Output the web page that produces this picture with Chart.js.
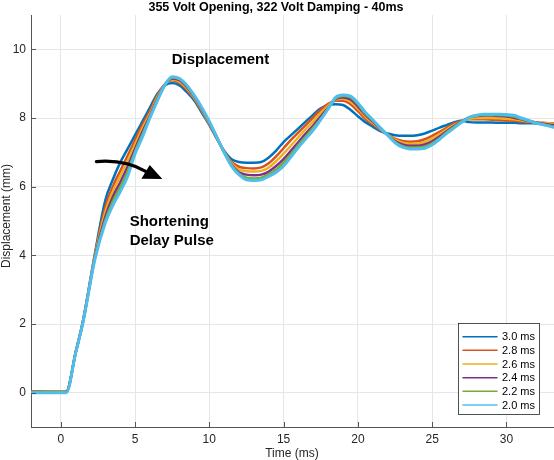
<!DOCTYPE html>
<html>
<head>
<meta charset="utf-8">
<script src="https://cdn.jsdelivr.net/npm/chart.js@4.4.1/dist/chart.umd.min.js"></script>
<style>
html,body{margin:0;padding:0;background:#fff;}
#wrap{width:554px;height:460px;position:relative;}
</style>
</head>
<body>
<div id="wrap"><canvas id="c" width="554" height="460"></canvas></div>
<script>
const chartTitle = "355 Volt Opening, 322 Volt Damping - 40ms";
const xAxisTitle = "Time (ms)";
const yAxisTitle = "Displacement (mm)";
const seriesLabels = ["3.0 ms", "2.8 ms", "2.6 ms", "2.4 ms", "2.2 ms", "2.0 ms"];
const seriesColors = ["#0072BD", "#D95319", "#EDB120", "#7E2F8E", "#77AC30", "#4DBEEE"];

const times = [-2, 0, 0.38, 1.0, 1.5, 2.3, 3.0, 3.5, 4.0, 4.5, 5.0, 5.5, 6.0, 6.5, 7.0, 7.5, 8.0, 8.5, 9.0, 9.5,
  10.0, 10.5, 11.0, 11.5, 12.0, 12.5, 13.0, 13.5, 14.0, 14.5, 15.0, 15.5, 16.0, 16.5, 17.0, 17.5, 18.0, 18.5, 19.0, 19.5,
  20.0, 20.5, 21.0, 21.5, 22.0, 22.5, 23.0, 23.5, 24.0, 24.5, 25.0, 25.5, 26.0, 26.5, 27.0, 27.5, 28.0, 28.5, 29.0, 29.5,
  30.0, 30.5, 31.0, 31.5, 32.0, 32.5, 33.0, 33.2];

const disp30 = [0.02, 0.02, 0.02, 1.17, 2.1, 4.05, 5.6, 6.2, 6.7, 7.1, 7.5, 7.9, 8.3, 8.7, 8.95, 9.02, 8.95, 8.75, 8.5, 8.15,
  7.8, 7.4, 7.05, 6.8, 6.72, 6.7, 6.7, 6.72, 6.85, 7.05, 7.3, 7.5, 7.7, 7.9, 8.1, 8.28, 8.37, 8.4, 8.38, 8.24,
  8.05, 7.88, 7.75, 7.62, 7.55, 7.5, 7.48, 7.48, 7.5, 7.55, 7.63, 7.72, 7.8, 7.88, 7.92, 7.88, 7.87, 7.87, 7.87, 7.86,
  7.86, 7.86, 7.85, 7.85, 7.84, 7.83, 7.82, 7.82];
const disp28 = [0.03, 0.02, 0.03, 1.16, 2.08, 4.0, 5.4, 6.0, 6.45, 6.9, 7.35, 7.8, 8.2, 8.65, 8.98, 9.1, 9.02, 8.82, 8.55, 8.2,
  7.82, 7.42, 7.02, 6.72, 6.58, 6.54, 6.53, 6.56, 6.68, 6.88, 7.12, 7.36, 7.58, 7.8, 8.02, 8.24, 8.41, 8.5, 8.5, 8.4,
  8.2, 7.98, 7.82, 7.66, 7.52, 7.4, 7.33, 7.31, 7.32, 7.38, 7.48, 7.6, 7.72, 7.84, 7.92, 7.96, 7.96, 7.96, 7.95, 7.94,
  7.93, 7.92, 7.9, 7.88, 7.87, 7.86, 7.85, 7.85];
const disp26 = [0.02, 0.03, 0.02, 1.16, 2.07, 3.97, 5.25, 5.85, 6.3, 6.75, 7.22, 7.7, 8.12, 8.6, 8.97, 9.12, 9.06, 8.86, 8.58, 8.23,
  7.84, 7.43, 7.01, 6.68, 6.5, 6.45, 6.44, 6.46, 6.56, 6.74, 6.96, 7.2, 7.44, 7.68, 7.9, 8.14, 8.36, 8.53, 8.56, 8.48,
  8.28, 8.04, 7.86, 7.68, 7.51, 7.37, 7.28, 7.25, 7.25, 7.3, 7.4, 7.53, 7.67, 7.8, 7.91, 7.98, 8.0, 8.0, 8.0, 7.99,
  7.98, 7.96, 7.93, 7.9, 7.87, 7.85, 7.84, 7.83];
const disp24 = [0.03, 0.02, 0.03, 1.15, 2.06, 3.94, 5.12, 5.7, 6.12, 6.58, 7.1, 7.6, 8.06, 8.55, 8.96, 9.15, 9.1, 8.9, 8.61, 8.26,
  7.86, 7.44, 7.0, 6.64, 6.42, 6.35, 6.33, 6.35, 6.44, 6.6, 6.8, 7.05, 7.3, 7.55, 7.79, 8.04, 8.3, 8.55, 8.6, 8.54,
  8.34, 8.09, 7.9, 7.7, 7.5, 7.33, 7.23, 7.19, 7.19, 7.23, 7.32, 7.46, 7.62, 7.77, 7.91, 8.02, 8.06, 8.07, 8.07, 8.06,
  8.04, 8.01, 7.96, 7.91, 7.87, 7.83, 7.8, 7.79];
const disp22 = [0.02, 0.03, 0.02, 1.15, 2.05, 3.91, 5.02, 5.57, 5.98, 6.44, 7.02, 7.52, 8.02, 8.52, 8.95, 9.18, 9.13, 8.93, 8.63, 8.28,
  7.88, 7.45, 7.0, 6.62, 6.38, 6.26, 6.24, 6.26, 6.36, 6.5, 6.7, 6.95, 7.22, 7.47, 7.72, 7.98, 8.27, 8.57, 8.64, 8.6,
  8.4, 8.13, 7.93, 7.71, 7.5, 7.3, 7.18, 7.14, 7.14, 7.17, 7.26, 7.41, 7.59, 7.75, 7.9, 8.02, 8.08, 8.09, 8.09, 8.08,
  8.07, 8.04, 7.98, 7.92, 7.86, 7.81, 7.77, 7.75];
const disp20 = [0.0, 0.0, 0.0, 1.14, 2.05, 3.88, 4.95, 5.45, 5.85, 6.3, 6.95, 7.45, 8.0, 8.5, 8.95, 9.2, 9.15, 8.95, 8.65, 8.3,
  7.9, 7.45, 7.0, 6.6, 6.35, 6.2, 6.18, 6.2, 6.3, 6.42, 6.6, 6.87, 7.15, 7.4, 7.65, 7.95, 8.27, 8.6, 8.67, 8.64,
  8.44, 8.17, 7.95, 7.72, 7.5, 7.28, 7.15, 7.1, 7.1, 7.12, 7.22, 7.38, 7.56, 7.72, 7.88, 8.02, 8.08, 8.11, 8.11, 8.11,
  8.1, 8.08, 8.0, 7.93, 7.85, 7.8, 7.75, 7.72];

const xTickValues = [0, 5, 10, 15, 20, 25, 30];
const yTickValues = [0, 2, 4, 6, 8, 10];

const annotations = [
  { text: "Displacement", x: 7.47, y: 9.69 },
  { text: "Shortening", x: 4.64, y: 4.97 },
  { text: "Delay Pulse", x: 4.64, y: 4.42 }
];
const arrowPath = { start: [2.40, 6.73], ctrl: [4.31, 6.80], end: [5.75, 6.44],
  head: [[5.99, 6.63], [5.43, 6.23], [6.84, 6.22]] };

const allSeries = [disp30, disp28, disp26, disp24, disp22, disp20];
const FONT = "'Liberation Sans', Arial, Helvetica, sans-serif";
const AX = '#262626';

const datasets = allSeries.map((s, i) => ({
  label: seriesLabels[i],
  data: times.map((t, j) => ({ x: t, y: s[j] })),
  borderColor: seriesColors[i],
  backgroundColor: seriesColors[i],
  borderWidth: i === 5 ? 3 : 2.5,
  pointRadius: 0,
  cubicInterpolationMode: 'monotone',
  fill: false,
  order: 6 - i
}));

const decor = {
  id: 'decor',
  afterDatasetsDraw(chart) {
    const ctx = chart.ctx, xs = chart.scales.x, ys = chart.scales.y, ca = chart.chartArea;
    const P = (p) => [xs.getPixelForValue(p[0]), ys.getPixelForValue(p[1])];
    ctx.save();
    // inward tick marks
    ctx.strokeStyle = '#555';
    ctx.lineWidth = 1;
    ctx.beginPath();
    xTickValues.forEach(v => { const px = Math.round(xs.getPixelForValue(v)) + 0.5; ctx.moveTo(px, ca.bottom); ctx.lineTo(px, ca.bottom - 5); });
    yTickValues.forEach(v => { const py = Math.round(ys.getPixelForValue(v)) + 0.5; ctx.moveTo(ca.left, py); ctx.lineTo(ca.left + 5, py); });
    ctx.stroke();
    // annotations
    ctx.fillStyle = '#000';
    ctx.font = "bold 15px " + FONT;
    ctx.textAlign = 'left';
    ctx.textBaseline = 'middle';
    annotations.forEach(a => {
      ctx.fillText(a.text, xs.getPixelForValue(a.x), ys.getPixelForValue(a.y));
    });
    // arrow
    const s = P(arrowPath.start), c = P(arrowPath.ctrl), e = P(arrowPath.end);
    ctx.strokeStyle = '#000';
    ctx.lineWidth = 3.2;
    ctx.lineCap = 'round';
    ctx.beginPath();
    ctx.moveTo(s[0], s[1]);
    ctx.quadraticCurveTo(c[0], c[1], e[0], e[1]);
    ctx.stroke();
    ctx.beginPath();
    arrowPath.head.forEach((h, i) => { const q = P(h); if (i === 0) ctx.moveTo(q[0], q[1]); else ctx.lineTo(q[0], q[1]); });
    ctx.closePath();
    ctx.fill();
    // legend
    const bx = 458.5, by = 323.5, bw = 81, bh = 91;
    ctx.fillStyle = '#fff';
    ctx.fillRect(bx, by, bw, bh);
    ctx.strokeStyle = AX;
    ctx.lineWidth = 0.8;
    ctx.strokeRect(bx, by, bw, bh);
    ctx.font = "11px " + FONT;
    ctx.textAlign = 'left';
    ctx.textBaseline = 'middle';
    chart.data.datasets.forEach((d, i) => {
      const yy = 336.7 + i * 13.66;
      ctx.strokeStyle = d.borderColor;
      ctx.lineWidth = 1.5;
      ctx.beginPath();
      ctx.moveTo(463, yy);
      ctx.lineTo(497, yy);
      ctx.stroke();
      ctx.fillStyle = '#000';
      ctx.fillText(d.label, 502, yy + 0.5);
    });
    // titles
    ctx.fillStyle = '#000';
    ctx.font = "bold 12.5px " + FONT;
    ctx.textAlign = 'center';
    ctx.textBaseline = 'middle';
    ctx.fillText(chartTitle, 276, 8);
    ctx.fillStyle = AX;
    ctx.font = "12px " + FONT;
    ctx.fillText(xAxisTitle, 292, 454);
    ctx.translate(7, 216);
    ctx.rotate(-Math.PI / 2);
    ctx.fillText(yAxisTitle, 0, 0);
    ctx.restore();
  }
};

new Chart(document.getElementById('c'), {
  type: 'line',
  data: { datasets },
  options: {
    responsive: false,
    animation: false,
    events: [],
    layout: { padding: { top: 15, right: 0, left: 0, bottom: 0 } },
    plugins: { legend: { display: false }, title: { display: false }, tooltip: { enabled: false } },
    scales: {
      x: {
        type: 'linear', min: -2, max: 33.2,
        afterBuildTicks: (sc) => { sc.ticks = xTickValues.map(v => ({ value: v })); },
        afterFit: (sc) => { sc.height = 33; },
        ticks: { color: AX, font: { family: FONT, size: 12 }, padding: 5, maxRotation: 0 },
        grid: { color: '#e6e6e6', drawTicks: false, lineWidth: 1 },
        border: { color: '#555', width: 1 }
      },
      y: {
        type: 'linear', min: -1, max: 11,
        afterBuildTicks: (sc) => { sc.ticks = yTickValues.map(v => ({ value: v })); },
        afterFit: (sc) => { sc.width = 31; },
        ticks: { color: AX, font: { family: FONT, size: 12 }, padding: 5 },
        grid: { color: '#e6e6e6', drawTicks: false, lineWidth: 1 },
        border: { color: '#555', width: 1 }
      }
    }
  },
  plugins: [decor]
});
</script>
</body>
</html>
